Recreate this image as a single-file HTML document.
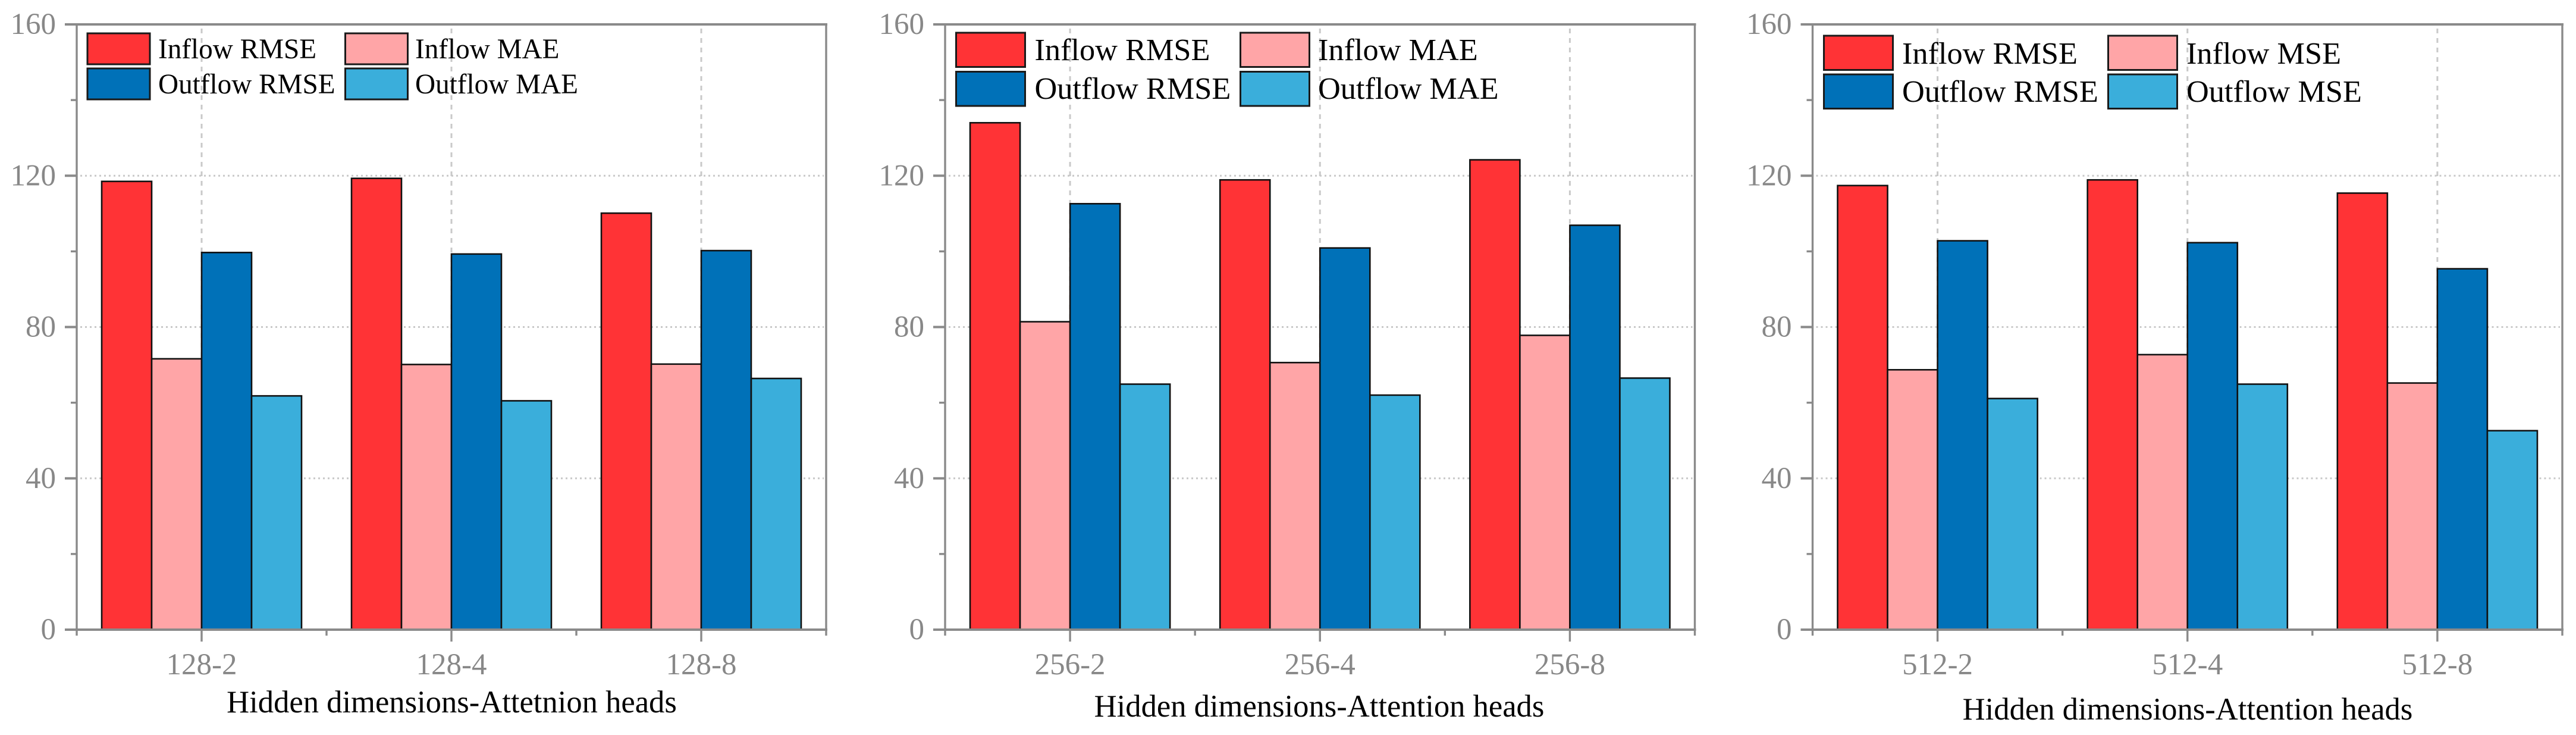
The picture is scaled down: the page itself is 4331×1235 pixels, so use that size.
<!DOCTYPE html>
<html lang="en">
<head>
<meta charset="utf-8">
<title>Hidden dimensions and attention heads bar charts</title>
<style>
html,body{margin:0;padding:0;background:#fff;width:4331px;height:1235px;overflow:hidden}
svg{display:block}
text{font-family:"Liberation Serif","Times New Roman",serif}
</style>
</head>
<body>
<svg id="figure" xmlns="http://www.w3.org/2000/svg" width="4331" height="1235" viewBox="0 0 4331 1235"></svg>
<script>
// ---- data ----
const yTickLabels = [0, 40, 80, 120, 160];
const yMinorValues = [20, 60, 100, 140];
const yMax = 160;

const categories128 = ['128-2', '128-4', '128-8'];
const inflowRmse128 = [118.5, 119.3, 110.1];
const inflowMae128 = [71.6, 70.1, 70.2];
const outflowRmse128 = [99.7, 99.3, 100.2];
const outflowMae128 = [61.8, 60.5, 66.4];
const legend128 = ['Inflow RMSE', 'Inflow MAE', 'Outflow RMSE', 'Outflow MAE'];
const title128 = 'Hidden dimensions-Attetnion heads';

const categories256 = ['256-2', '256-4', '256-8'];
const inflowRmse256 = [134.0, 118.9, 124.2];
const inflowMae256 = [81.4, 70.6, 77.8];
const outflowRmse256 = [112.6, 100.9, 106.9];
const outflowMae256 = [64.9, 62.0, 66.5];
const legend256 = ['Inflow RMSE', 'Inflow MAE', 'Outflow RMSE', 'Outflow MAE'];
const title256 = 'Hidden dimensions-Attention heads';

const categories512 = ['512-2', '512-4', '512-8'];
const inflowRmse512 = [117.4, 118.9, 115.4];
const inflowMse512 = [68.7, 72.7, 65.2];
const outflowRmse512 = [102.8, 102.3, 95.4];
const outflowMse512 = [61.1, 64.9, 52.6];
const legend512 = ['Inflow RMSE', 'Inflow MSE', 'Outflow RMSE', 'Outflow MSE'];
const title512 = 'Hidden dimensions-Attention heads';

const seriesColors = ['#ff3336', '#ffa5a7', '#0071b8', '#3aaedb'];

// ---- layout (not data) ----
const plotTop = 41;
const plotBottom = 1058;
const axisColor = '#8a8a8a';
const gridColor = '#c9c9c9';

const panels = [
  {
    key: '128', categories: categories128,
    series: [inflowRmse128, inflowMae128, outflowRmse128, outflowMae128],
    legend: legend128, title: title128,
    left: 129, right: 1389,
    titleX: 759.5, titleY: 1197, titleSize: 52.6,
    legendSize: 47.2, swW: 105, swH: 52,
    colX: [147, 580.5], rowY: [56, 115], textX: [266, 698], textY: [98, 157]
  },
  {
    key: '256', categories: categories256,
    series: [inflowRmse256, inflowMae256, outflowRmse256, outflowMae256],
    legend: legend256, title: title256,
    left: 1589, right: 2849.5,
    titleX: 2218, titleY: 1204, titleSize: 52.6,
    legendSize: 52.3, swW: 116, swH: 57.5,
    colX: [1607.5, 2085.5], rowY: [55, 120.5], textX: [1739.5, 2216], textY: [101, 166]
  },
  {
    key: '512', categories: categories512,
    series: [inflowRmse512, inflowMse512, outflowRmse512, outflowMse512],
    legend: legend512, title: title512,
    left: 3047.5, right: 4308,
    titleX: 3678, titleY: 1209, titleSize: 52.6,
    legendSize: 52.3, swW: 116, swH: 57.5,
    colX: [3066.5, 3544.5], rowY: [60, 125], textX: [3198, 3676], textY: [107, 171]
  }
];

const NS = 'http://www.w3.org/2000/svg';
const fig = document.getElementById('figure');

function yScale(v) {
  return plotBottom - (v / yMax) * (plotBottom - plotTop);
}
function bandScale(panel, i) {
  const band = (panel.right - panel.left) / panel.categories.length;
  return panel.left + band * (i + 0.5);
}
function make(parent, tag, attrs, txt) {
  const node = document.createElementNS(NS, tag);
  for (const k in attrs) node.setAttribute(k, attrs[k]);
  if (txt !== undefined) node.textContent = txt;
  parent.appendChild(node);
  return node;
}

panels.forEach(function (p) {
  const g = make(fig, 'g', {});
  
  

  const band = (p.right - p.left) / p.categories.length;
  const barW = band * 0.2;

  // horizontal grid
  [40, 80, 120].forEach(function (v) {
    const el = make(g, 'line', {
      x1: p.left + 6, x2: p.right - 4, y1: yScale(v), y2: yScale(v),
      stroke: gridColor, 'stroke-width': 3, 'stroke-dasharray': '3 5'
    });
    
    
  });

  // vertical grid
  p.categories.forEach(function (c, i) {
    const el = make(g, 'line', {
      x1: bandScale(p, i), x2: bandScale(p, i), y1: plotTop + 7, y2: plotBottom,
      stroke: gridColor, 'stroke-width': 3, 'stroke-dasharray': '8 8'
    });
    
    
  });

  // bars
  p.series.forEach(function (values, s) {
    values.forEach(function (v, i) {
      const x = bandScale(p, i) - 2 * barW + s * barW;
      const el = make(g, 'rect', {
        x: x, y: yScale(v), width: barW, height: plotBottom - yScale(v),
        fill: seriesColors[s], stroke: '#111', 'stroke-width': 2.6
      });
      
      
    });
  });

  // frame
  const frame = make(g, 'path', {
    d: 'M' + p.left + ' ' + plotBottom + 'V' + plotTop + 'M' + p.right + ' ' + plotTop + 'V' + plotBottom,
    fill: 'none', stroke: axisColor, 'stroke-width': 3.4
  });
  
  

  const topAxis = make(g, 'line', {
    x1: p.left - 20, x2: p.right + 2, y1: plotTop, y2: plotTop,
    stroke: axisColor, 'stroke-width': 4
  });
  
  

  const bottomAxis = make(g, 'line', {
    x1: p.left - 20, x2: p.right + 2, y1: plotBottom, y2: plotBottom,
    stroke: axisColor, 'stroke-width': 4
  });
  
  

  // y ticks and labels
  yTickLabels.forEach(function (v) {
    const t = make(g, 'line', {
      x1: p.left - 20, x2: p.left, y1: yScale(v), y2: yScale(v),
      stroke: axisColor, 'stroke-width': 4
    });
    
    

    const lab = make(g, 'text', {
      x: p.left - 35, y: yScale(v) + 16, 'text-anchor': 'end',
      'font-size': 51, fill: '#888888'
    }, String(v));
    
    
  });
  yMinorValues.forEach(function (v) {
    const t = make(g, 'line', {
      x1: p.left - 10, x2: p.left, y1: yScale(v), y2: yScale(v),
      stroke: axisColor, 'stroke-width': 3.4
    });
    
    
  });

  // x ticks and labels
  p.categories.forEach(function (c, i) {
    const t = make(g, 'line', {
      x1: bandScale(p, i), x2: bandScale(p, i), y1: plotBottom, y2: plotBottom + 20,
      stroke: axisColor, 'stroke-width': 3.4
    });
    
    

    const lab = make(g, 'text', {
      x: bandScale(p, i), y: 1133, 'text-anchor': 'middle',
      'font-size': 51, fill: '#888888'
    }, c);
    
    
  });
  for (let k = 0; k <= p.categories.length; k++) {
    const mx = p.left + k * band;
    const t = make(g, 'line', {
      x1: mx, x2: mx, y1: plotBottom, y2: plotBottom + 10,
      stroke: axisColor, 'stroke-width': 3.4
    });
    
    
  }

  // x axis title
  const ttl = make(g, 'text', {
    x: p.titleX, y: p.titleY, 'text-anchor': 'middle',
    'font-size': p.titleSize, fill: '#000'
  }, p.title);
  
  

  // legend
  const lg = make(g, 'g', {});
  
  
  p.legend.forEach(function (label, s) {
    const col = s % 2;
    const row = Math.floor(s / 2);
    const sw = make(lg, 'rect', {
      x: p.colX[col], y: p.rowY[row], width: p.swW, height: p.swH,
      fill: seriesColors[s], stroke: '#1a1a1a', 'stroke-width': 3
    });
    
    

    const tx = make(lg, 'text', {
      x: p.textX[col], y: p.textY[row], 'font-size': p.legendSize, fill: '#000'
    }, label);
    
    
  });
});
</script>
</body>
</html>
